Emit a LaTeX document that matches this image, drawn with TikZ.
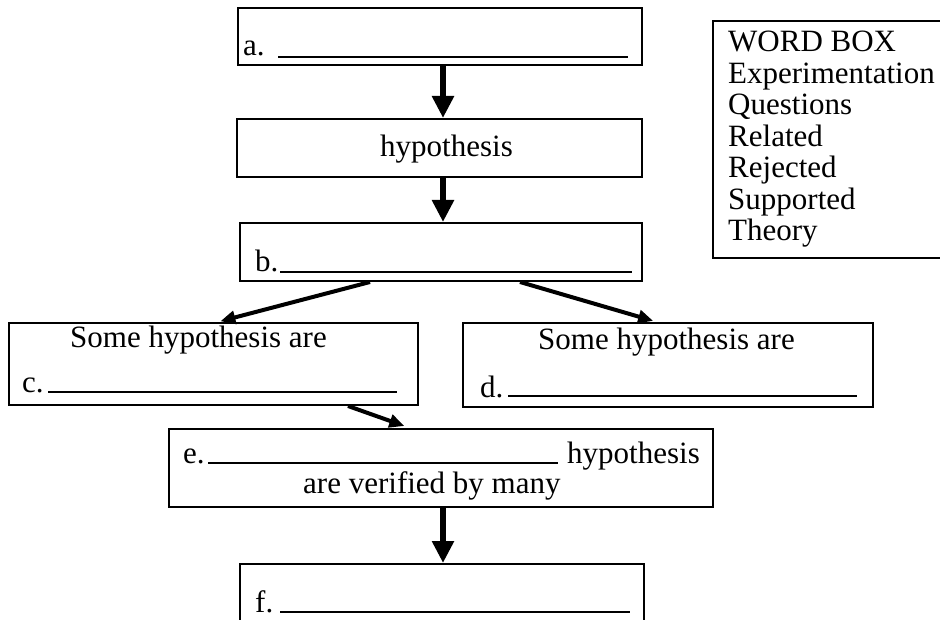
\documentclass[tikz,border=0pt]{standalone}
\usepackage{fontspec}
\setmainfont{Liberation Serif}
\usetikzlibrary{arrows.meta}
\begin{document}
\begin{tikzpicture}[x=1pt,y=-1pt,
  font=\fontsize{31}{31.5}\selectfont,
  box/.style={draw, line width=2pt, rectangle, inner sep=0pt},
  lbl/.style={inner sep=0pt, anchor=base west},
  uline/.style={line width=1.4pt},
  bigarrow/.style={line width=6pt, -{Triangle[length=22pt,width=21pt]}},
  smallarrow/.style={line width=4pt, -{Triangle[length=15pt,width=13pt]}}]
\useasboundingbox (0,0) rectangle (940,620);
% boxes
\node[box, minimum width=404pt, minimum height=57pt] (a) at (440,36.5) {};
\node[box, minimum width=405pt, minimum height=58pt] (hyp) at (439.5,148) {};
\node[box, minimum width=402pt, minimum height=58pt] (b) at (441,252) {};
\node[box, minimum width=409pt, minimum height=82pt] (c) at (213.5,364) {};
\node[box, minimum width=410pt, minimum height=84pt] (d) at (668,365) {};
\node[box, minimum width=544pt, minimum height=78pt] (e) at (441,468) {};
\node[box, minimum width=404pt, minimum height=86pt] (f) at (442,607) {};
\node[box, minimum width=237pt, minimum height=237pt] (wb) at (831.5,139.5) {};
% texts
\node[lbl] (ta) at (243,56) {a.};
\draw[uline] (278,57) -- (628,57);
\node[lbl] (th) at (380,157) {hypothesis};
\node[lbl] (tb) at (255,272) {b.};
\draw[uline] (280,272) -- (632,272);
\node[lbl] (tc1) at (70,348) {Some hypothesis are};
\node[lbl] (tc) at (22,392) {c.};
\draw[uline] (48,392) -- (397,392);
\node[lbl] (td1) at (538,350) {Some hypothesis are};
\node[lbl] (td) at (480,397) {d.};
\draw[uline] (508,396) -- (857,396);
\node[lbl] (te) at (183,463) {e.};
\draw[uline] (208,463) -- (558,463);
\node[lbl] (te2) at (567,463) {hypothesis};
\node[lbl] (te3) at (303,493) {are verified by many};
\node[lbl] (tf) at (255,612) {f.};
\draw[uline] (280,612) -- (630,612);
% word box
\foreach \w [count=\i from 0] in {WORD BOX,Experimentation,Questions,Related,Rejected,Supported,Theory}
  \node[lbl] (w\i) at (728,52+31.5*\i) {\w};
% connectors
\draw[bigarrow] ([xshift=3pt]a.south) -- ([xshift=3.5pt]hyp.north);
\draw[bigarrow] ([xshift=3.5pt]hyp.south) -- ([xshift=2pt]b.north);
\draw[smallarrow, shorten >=3pt] ([xshift=-71pt]b.south) -- ([xshift=4pt]c.north);
\draw[smallarrow, shorten >=4pt] ([xshift=79pt]b.south) -- ([xshift=-11pt]d.north);
\draw[smallarrow, shorten >=6pt] ([xshift=134.5pt]c.south) -- ([xshift=-31pt]e.north);
\draw[bigarrow] ([xshift=2pt]e.south) -- ([xshift=1pt]f.north);
\end{tikzpicture}
\end{document}
